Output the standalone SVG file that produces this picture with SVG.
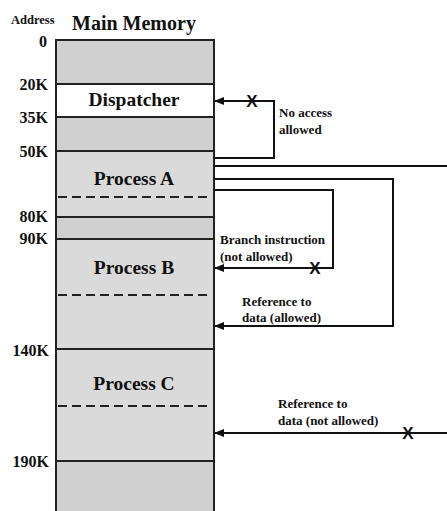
<svg xmlns="http://www.w3.org/2000/svg" width="447" height="511" viewBox="0 0 447 511">
<style>
text{font-family:"Liberation Serif","Times New Roman",serif;font-weight:bold;fill:#111}
.addr{font-size:16px;text-anchor:end}
.proc{font-size:19.5px;text-anchor:middle}
.lbl{font-size:13px}
.x{font-family:"Liberation Sans",Arial,sans-serif;font-size:17px;text-anchor:middle}
.seg{stroke:#222;stroke-width:2}
.dark{fill:#d0d0d0}
.light{fill:#dadada}
.dash{stroke:#222;stroke-width:2;stroke-dasharray:9,5;fill:none}
.conn{stroke:#111;stroke-width:2;fill:none}
</style>
<defs>
<marker id="ah" markerWidth="10" markerHeight="8" refX="9" refY="4" orient="auto" markerUnits="userSpaceOnUse">
<path d="M0,0 L10,4 L0,8 z" fill="#111"/>
</marker>
</defs>
<rect width="447" height="511" fill="#fff"/>
<text x="11" y="24" style="font-size:12.5px">Address</text>
<text x="134" y="30" style="font-size:20px;text-anchor:middle">Main Memory</text>
<g id="memory">
<rect class="dark" x="56" y="40" width="158" height="44"/>
<rect x="56" y="84" width="158" height="33" fill="#fff"/>
<rect class="dark" x="56" y="117" width="158" height="34"/>
<rect class="light" x="56" y="151" width="158" height="66"/>
<rect class="dark" x="56" y="217" width="158" height="22"/>
<rect class="light" x="56" y="239" width="158" height="110"/>
<rect class="light" x="56" y="349" width="158" height="112"/>
<rect class="dark" x="56" y="461" width="158" height="60"/>
<path class="seg" fill="none" d="M56,520 V40 H214 V520"/>
<line class="seg" x1="56" y1="84" x2="214" y2="84"/>
<line class="seg" x1="56" y1="117" x2="214" y2="117"/>
<line class="seg" x1="56" y1="151" x2="214" y2="151"/>
<line class="seg" x1="56" y1="217" x2="214" y2="217"/>
<line class="seg" x1="56" y1="239" x2="214" y2="239"/>
<line class="seg" x1="56" y1="349" x2="214" y2="349"/>
<line class="seg" x1="56" y1="461" x2="214" y2="461"/>
</g>
<g id="addresses">
<text class="addr" x="47" y="47">0</text>
<text class="addr" x="48" y="90">20K</text>
<text class="addr" x="48" y="123">35K</text>
<text class="addr" x="48" y="157">50K</text>
<text class="addr" x="48" y="222">80K</text>
<text class="addr" x="48" y="244">90K</text>
<text class="addr" x="49" y="356">140K</text>
<text class="addr" x="49" y="467">190K</text>
</g>
<g id="dispatcher">
<text class="proc" x="134" y="106">Dispatcher</text>
</g>
<g id="processA">
<text class="proc" x="134" y="185">Process A</text>
<line class="dash" x1="58" y1="197" x2="212" y2="197"/>
</g>
<g id="processB">
<text class="proc" x="134" y="274">Process B</text>
<line class="dash" x1="58" y1="295" x2="212" y2="295"/>
</g>
<g id="processC">
<text class="proc" x="134" y="390">Process C</text>
<line class="dash" x1="58" y1="406" x2="212" y2="406"/>
</g>
<g id="connectors">
<path class="conn" d="M214,158 H274 V101 H215" marker-end="url(#ah)"/>
<line class="conn" x1="214" y1="166" x2="447" y2="166"/>
<path class="conn" d="M214,190 H333 V268 H215" marker-end="url(#ah)"/>
<path class="conn" d="M214,179 H393 V326 H215" marker-end="url(#ah)"/>
<line class="conn" x1="447" y1="433" x2="215" y2="433" marker-end="url(#ah)"/>
<text class="x" x="252" y="107">X</text>
<text class="x" x="315" y="274">X</text>
<text class="x" x="408" y="439">X</text>
<text class="lbl" x="279" y="117">No access</text>
<text class="lbl" x="279" y="134">allowed</text>
<text class="lbl" x="220" y="244">Branch instruction</text>
<text class="lbl" x="220" y="261">(not allowed)</text>
<text class="lbl" x="242" y="306">Reference to</text>
<text class="lbl" x="242" y="322">data (allowed)</text>
<text class="lbl" x="278" y="408">Reference to</text>
<text class="lbl" x="278" y="425">data (not allowed)</text>
</g>
</svg>
